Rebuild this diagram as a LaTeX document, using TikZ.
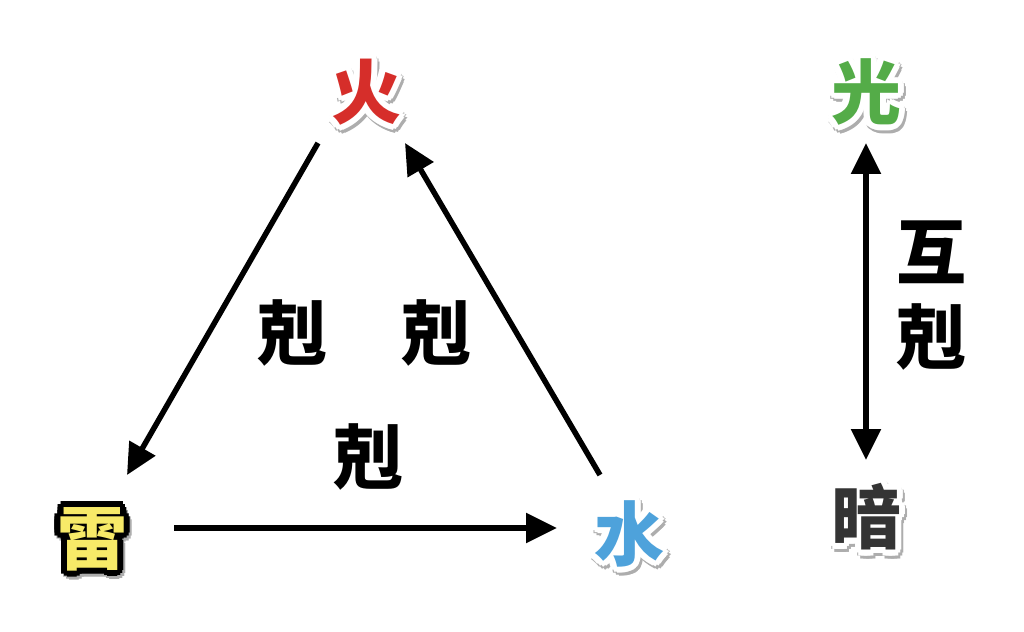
\documentclass[tikz,border=0pt]{standalone}
\usepackage{fontspec}
\newfontfamily\cjk{Noto Sans CJK TC}
\usetikzlibrary{arrows.meta}
\definecolor{firec}{RGB}{214,46,42}
\definecolor{waterc}{RGB}{78,162,219}
\definecolor{lightc}{RGB}{84,172,72}
\definecolor{darkc}{RGB}{52,52,52}
\definecolor{thunderc}{RGB}{247,234,104}
\tikzset{
  lbl/.style={font=\cjk\bfseries\fontsize{70}{70}\selectfont, inner sep=0pt},
  arr/.style={line width=5.5pt, -{Triangle[length=31pt,width=29pt]}},
  dblarr/.style={line width=5.5pt, {Triangle[length=31pt,width=29pt]}-{Triangle[length=31pt,width=29pt]}},
}
% #1 name, #2 position, #3 fill colour, #4 rim colour, #5 text
\newcommand\rimglyph[5]{%
  \foreach \a in {0,30,...,330}
    \node[lbl, text=black!32, shift={(\a:6)}, shift={(2,3)}] at (#2) {#5};
  \foreach \a in {0,30,...,330}
    \node[lbl, text=#4, shift={(\a:6)}] at (#2) {#5};
  \node[lbl, text=#3] (#1) at (#2) {#5};
}
\begin{document}
\begin{tikzpicture}[x=1pt,y=-1pt]
  \useasboundingbox (0,0) rectangle (1024,631);
  \fill[white] (0,0) rectangle (1024,631);

  \rimglyph{huo}{366,92}{firec}{white}{火}
  \rimglyph{lei}{92,539}{thunderc}{black}{雷}
  \rimglyph{shui}{629,534}{waterc}{white}{水}
  \rimglyph{guang}{866,92}{lightc}{white}{光}
  \rimglyph{an}{866,517}{darkc}{white}{暗}

  \node[lbl] (k1) at (292,333) {剋};
  \node[lbl] (k2) at (436,333) {剋};
  \node[lbl] (k3) at (368,457) {剋};
  \node[lbl] (hu) at (931,252) {互};
  \node[lbl] (ke) at (931,337) {剋};

  \coordinate (a1s) at (318,143);
  \coordinate (a1e) at (127,475);
  \coordinate (a2s) at (600,475);
  \coordinate (a2e) at (405,143);
  \coordinate (a3s) at (174,528);
  \coordinate (a3e) at (557,528);
  \coordinate (a4s) at (866,143);
  \coordinate (a4e) at (866,460);

  \draw[arr] (a1s) -- (a1e);
  \draw[arr] (a2s) -- (a2e);
  \draw[arr] (a3s) -- (a3e);
  \draw[dblarr] (a4s) -- (a4e);
\end{tikzpicture}
\end{document}
